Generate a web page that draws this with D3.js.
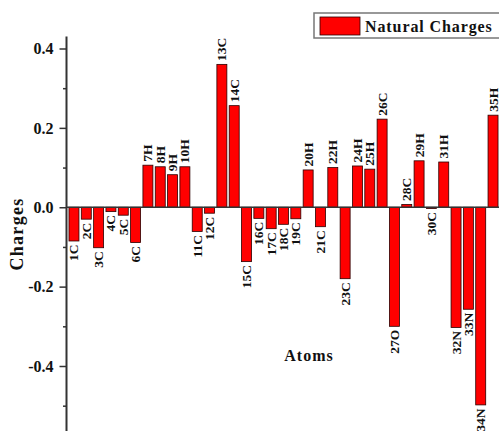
<!DOCTYPE html>
<html>
<head>
<meta charset="utf-8">
<script src="https://cdn.jsdelivr.net/npm/d3@7"></script>
<style>
  html, body { margin: 0; padding: 0; background: #fff; }
  svg { display: block; }
  text { font-family: "Liberation Serif", "Times New Roman", serif; font-weight: bold; fill: #111; }
</style>
</head>
<body>
<svg id="chart" width="499" height="431"></svg>
<script>
// Natural population charges per atom
const atoms = ["1C","2C","3C","4C","5C","6C","7H","8H","9H","10H",
  "11C","12C","13C","14C","15C","16C","17C","18C","19C","20H",
  "21C","22H","23C","24H","25H","26C","27O","28C","29H","30C",
  "31H","32N","33N","34N","35H"];
const charges = [-0.085,-0.030,-0.102,-0.011,-0.020,-0.089,0.106,0.102,0.082,0.102,
  -0.061,-0.015,0.360,0.256,-0.137,-0.028,-0.054,-0.043,-0.029,0.094,
  -0.049,0.100,-0.180,0.104,0.096,0.222,-0.300,0.007,0.117,-0.003,
  0.114,-0.303,-0.257,-0.498,0.232];
const majorTicks = [-0.4, -0.2, 0.0, 0.2, 0.4];
const minorTicks = [-0.5, -0.3, -0.1, 0.1, 0.3];
const seriesName = "Natural Charges";

const data = atoms.map((a, i) => ({ atom: a, value: charges[i] }));

const svg = d3.select("#chart");

const axisX = 66.5;
const y = d3.scaleLinear().domain([-0.4, 0.4]).range([366, 48.5]);
const yTop = y(0.43), yBottom = y(-0.6);

const x = d3.scaleBand()
  .domain(atoms)
  .range([67, 500])
  .paddingInner(0.19)
  .paddingOuter(0.16);

// bars
svg.append("g").selectAll("rect")
  .data(data)
  .join("rect")
  .attr("x", d => x(d.atom))
  .attr("width", x.bandwidth())
  .attr("y", d => y(Math.max(0, d.value)))
  .attr("height", d => Math.abs(y(d.value) - y(0)))
  .attr("fill", "#ff0000")
  .attr("stroke", "#2a0000")
  .attr("stroke-width", 0.8);

// atom labels at the end of each bar, rotated
svg.append("g").selectAll("text")
  .data(data)
  .join("text")
  .attr("transform", d => {
    const cx = x(d.atom) + x.bandwidth() / 2;
    const yy = d.value >= 0 ? y(d.value) - 3.5 : y(d.value) + 3.5;
    return `translate(${cx},${yy}) rotate(-90)`;
  })
  .attr("dy", "0.33em")
  .attr("text-anchor", d => d.value >= 0 ? "start" : "end")
  .style("font-size", "13.5px")
  .text(d => d.atom);

// zero line
svg.append("line")
  .attr("x1", axisX).attr("x2", 499)
  .attr("y1", y(0)).attr("y2", y(0))
  .attr("stroke", "#333").attr("stroke-width", 1.6);

// y axis
const yAxis = d3.axisLeft(y)
  .tickValues(majorTicks)
  .tickSize(7)
  .tickPadding(6)
  .tickFormat(d => d.toFixed(1));

const gy = svg.append("g")
  .attr("transform", `translate(${axisX},0)`)
  .call(yAxis);
gy.select(".domain").remove();
gy.selectAll(".tick line").attr("stroke", "#333").attr("stroke-width", 1.5);
gy.selectAll(".tick text")
  .style("font-size", "16px")
  .style("font-family", "'Liberation Serif', 'Times New Roman', serif")
  .style("font-weight", "bold")
  .attr("fill", "#111");

const gyMinor = svg.append("g")
  .attr("transform", `translate(${axisX},0)`)
  .call(d3.axisLeft(y).tickValues(minorTicks).tickSize(3.5).tickFormat(""));
gyMinor.select(".domain").remove();
gyMinor.selectAll(".tick line").attr("stroke", "#333").attr("stroke-width", 1.5);

svg.append("line")
  .attr("x1", axisX).attr("x2", axisX)
  .attr("y1", yTop).attr("y2", yBottom)
  .attr("stroke", "#333").attr("stroke-width", 2);

// axis titles
svg.append("text")
  .attr("transform", `translate(22.5,234) rotate(-90)`)
  .attr("text-anchor", "middle")
  .style("font-size", "18px")
  .style("letter-spacing", "1.3px")
  .text("Charges");

svg.append("text")
  .attr("x", 309).attr("y", 361)
  .attr("text-anchor", "middle")
  .style("font-size", "16px")
  .style("letter-spacing", "1px")
  .text("Atoms");

// legend
const lg = svg.append("g");
lg.append("rect")
  .attr("x", 314).attr("y", 13).attr("width", 200).attr("height", 25)
  .attr("fill", "#fff").attr("stroke", "#777").attr("stroke-width", 1.5);
lg.append("rect")
  .attr("x", 320).attr("y", 17).attr("width", 40).attr("height", 18)
  .attr("fill", "#ff0000").attr("stroke", "#2a0000").attr("stroke-width", 0.8);
lg.append("text")
  .attr("x", 365).attr("y", 32)
  .style("font-size", "16px")
  .style("letter-spacing", "0.9px")
  .text(seriesName);
</script>
</body>
</html>
